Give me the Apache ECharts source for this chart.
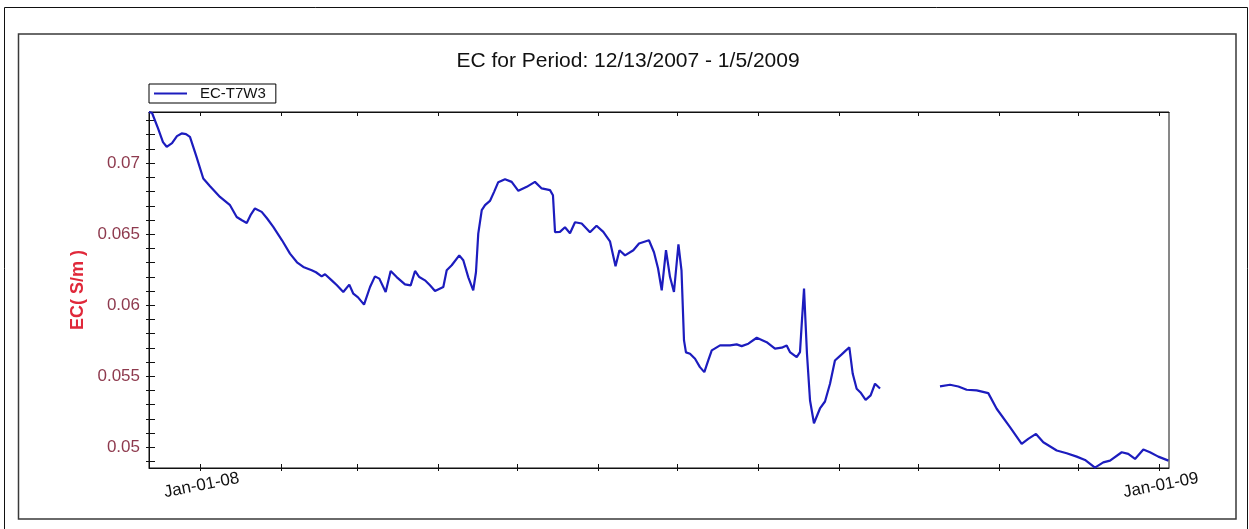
<!DOCTYPE html>
<html>
<head>
<meta charset="utf-8">
<title>EC for Period</title>
<script src="https://cdn.jsdelivr.net/npm/echarts@6/dist/echarts.min.js"></script>
<style>
  html, body { margin: 0; padding: 0; background: #fff; }
  #main { width: 1249px; height: 529px; }
</style>
</head>
<body>
<div id="main"></div>
<script>
// 数据：时间 + EC 值（null = 缺测）
var dates = [
  '2007-12-12 13:00', '2007-12-13 17:00', '2007-12-15 23:00', '2007-12-17 21:00', '2007-12-19 07:00',
  '2007-12-21 08:00', '2007-12-23 05:00', '2007-12-25 00:00', '2007-12-26 16:00', '2007-12-28 04:00',
  '2007-12-30 11:00', '2008-01-02 06:00', '2008-01-04 20:00', '2008-01-08 15:00', '2008-01-12 11:00',
  '2008-01-15 00:00', '2008-01-17 00:00', '2008-01-18 20:00', '2008-01-20 11:00', '2008-01-21 23:00',
  '2008-01-24 13:00', '2008-01-26 13:00', '2008-01-28 23:00', '2008-02-01 07:00', '2008-02-04 08:00',
  '2008-02-07 00:00', '2008-02-09 10:00', '2008-02-12 15:00', '2008-02-14 06:00', '2008-02-16 10:00',
  '2008-02-17 17:00', '2008-02-20 06:00', '2008-02-22 06:00', '2008-02-24 16:00', '2008-02-26 23:00',
  '2008-02-28 12:00', '2008-03-01 07:00', '2008-03-03 14:00', '2008-03-05 21:00', '2008-03-07 18:00',
  '2008-03-09 10:00', '2008-03-11 20:00', '2008-03-13 18:00', '2008-03-16 01:00', '2008-03-19 05:00',
  '2008-03-21 09:00', '2008-03-23 01:00', '2008-03-24 16:00', '2008-03-26 20:00', '2008-03-28 18:00',
  '2008-03-30 16:00', '2008-04-02 20:00', '2008-04-04 03:00', '2008-04-06 01:00', '2008-04-08 22:00',
  '2008-04-10 11:00', '2008-04-12 09:00', '2008-04-14 06:00', '2008-04-15 07:00', '2008-04-16 04:00',
  '2008-04-17 12:00', '2008-04-18 18:00', '2008-04-20 15:00', '2008-04-22 04:00', '2008-04-23 19:00',
  '2008-04-26 09:00', '2008-04-28 22:00', '2008-05-01 11:00', '2008-05-04 16:00', '2008-05-07 19:00',
  '2008-05-10 09:00', '2008-05-13 13:00', '2008-05-14 16:00', '2008-05-15 11:00', '2008-05-17 08:00',
  '2008-05-19 06:00', '2008-05-21 04:00', '2008-05-23 02:00', '2008-05-25 15:00', '2008-05-28 19:00',
  '2008-05-31 07:00', '2008-06-02 21:00', '2008-06-05 10:00', '2008-06-07 13:00', '2008-06-09 01:00',
  '2008-06-11 04:00', '2008-06-14 08:00', '2008-06-16 12:00', '2008-06-20 07:00', '2008-06-22 05:00',
  '2008-06-23 18:00', '2008-06-25 04:00', '2008-06-26 19:00', '2008-06-28 08:00', '2008-06-29 20:00',
  '2008-07-01 13:00', '2008-07-02 17:00', '2008-07-03 16:00', '2008-07-04 10:00', '2008-07-05 23:00',
  '2008-07-07 21:00', '2008-07-09 18:00', '2008-07-11 10:00', '2008-07-12 22:00', '2008-07-14 06:00',
  '2008-07-17 10:00', '2008-07-21 05:00', '2008-07-23 18:00', '2008-07-25 16:00', '2008-07-28 05:00',
  '2008-07-31 10:00', '2008-08-04 05:00', '2008-08-07 09:00', '2008-08-09 23:00', '2008-08-11 20:00',
  '2008-08-13 02:00', '2008-08-15 16:00', '2008-08-16 22:00', '2008-08-17 16:00', '2008-08-18 11:00',
  '2008-08-19 00:00', '2008-08-19 14:00', '2008-08-20 18:00', '2008-08-22 06:00', '2008-08-24 13:00',
  '2008-08-26 11:00', '2008-08-28 09:00', '2008-08-30 06:00', '2008-09-01 20:00', '2008-09-03 11:00',
  '2008-09-04 18:00', '2008-09-06 01:00', '2008-09-07 13:00', '2008-09-09 00:00', '2008-09-10 23:00',
  '2008-09-12 21:00', '2008-09-14 13:00', '2008-09-16 11:00', '2008-10-01 00:00', '2008-10-09 08:00',
  '2008-10-13 04:00', '2008-10-16 08:00', '2008-10-19 12:00', '2008-10-23 08:00', '2008-10-27 18:00',
  '2008-10-30 23:00', '2008-11-05 01:00', '2008-11-09 12:00', '2008-11-12 00:00', '2008-11-14 23:00',
  '2008-11-17 18:00', '2008-11-22 21:00', '2008-11-26 16:00', '2008-11-30 12:00', '2008-12-03 16:00',
  '2008-12-07 11:00', '2008-12-10 15:00', '2008-12-13 05:00', '2008-12-17 16:00', '2008-12-20 04:00',
  '2008-12-22 18:00', '2008-12-25 22:00', '2008-12-28 11:00', '2008-12-31 15:00', '2009-01-04 12:00'
];
var ecValues = [
  0.07360, 0.07353, 0.07247, 0.07148, 0.07115,
  0.07141, 0.07190, 0.07209, 0.07204, 0.07185,
  0.07056, 0.06892, 0.06838, 0.06762, 0.06704,
  0.06621, 0.06598, 0.06579, 0.06640, 0.06681,
  0.06657, 0.06612, 0.06551, 0.06457, 0.06363,
  0.06302, 0.06269, 0.06246, 0.06232, 0.06203,
  0.06218, 0.06175, 0.06140, 0.06093, 0.06145,
  0.06081, 0.06055, 0.06004, 0.06128, 0.06203,
  0.06187, 0.06093, 0.06241, 0.06198, 0.06147,
  0.06140, 0.06241, 0.06198, 0.06175, 0.06140,
  0.06100, 0.06128, 0.06246, 0.06281, 0.06351,
  0.06316, 0.06196, 0.06105, 0.06232, 0.06504,
  0.06669, 0.06704, 0.06734, 0.06796, 0.06866,
  0.06887, 0.06868, 0.06805, 0.06833, 0.06868,
  0.06822, 0.06810, 0.06774, 0.06514, 0.06516,
  0.06549, 0.06507, 0.06584, 0.06575, 0.06514,
  0.06559, 0.06516, 0.06450, 0.06274, 0.06387,
  0.06351, 0.06387, 0.06434, 0.06457, 0.06373,
  0.06260, 0.06105, 0.06387, 0.06198, 0.06093,
  0.06429, 0.06246, 0.05752, 0.05668, 0.05658,
  0.05623, 0.05564, 0.05529, 0.05611, 0.05682,
  0.05717, 0.05717, 0.05724, 0.05712, 0.05729,
  0.05771, 0.05740, 0.05694, 0.05701, 0.05717,
  0.05670, 0.05634, 0.05670, 0.05893, 0.06117,
  0.05893, 0.05658, 0.05329, 0.05169, 0.05273,
  0.05322, 0.05447, 0.05611, 0.05654, 0.05682,
  0.05703, 0.05517, 0.05412, 0.05386, 0.05334,
  0.05365, 0.05447, 0.05414, null,    0.05428,
  0.05440, 0.05428, 0.05405, 0.05400, 0.05381,
  0.05271, 0.05141, 0.05024, 0.05059, 0.05094,
  0.05035, 0.04977, 0.04958, 0.04934, 0.04911,
  0.04857, 0.04894, 0.04906, 0.04965, 0.04953,
  0.04918, 0.04984, 0.04965, 0.04934, 0.04906
];

// x 轴刻度（每月 1 日）和标签
var monthTicks = [
  '2008-01-01', '2008-02-01', '2008-03-01', '2008-04-01', '2008-05-01', '2008-06-01', '2008-07-01',
  '2008-08-01', '2008-09-01', '2008-10-01', '2008-11-01', '2008-12-01', '2009-01-01'
];
var xLabelDates = ['2008-01-01', '2009-01-01'];
// y 轴刻度
var yLabelValues = [0.05, 0.055, 0.06, 0.065, 0.07];
var yMinorTicks = [];
for (var t = 49; t <= 73; t++) yMinorTicks.push(t / 1000);

var xMin = '2007-12-12 13:00';
var xMax = '2009-01-04 17:00';
var yMin = 0.04854;
var yMax = 0.0736;

var monNames = ['Jan', 'Feb', 'Mar', 'Apr', 'May', 'Jun', 'Jul', 'Aug', 'Sep', 'Oct', 'Nov', 'Dec'];
function toTime(s) {
  var p = s.split(/[- :]/);
  return new Date(+p[0], +p[1] - 1, +p[2], +(p[3] || 0), +(p[4] || 0)).getTime();
}
function pad2(n) { return (n < 10 ? '0' : '') + n; }

var seriesData = [];
for (var i = 0; i < dates.length; i++) {
  seriesData.push([toTime(dates[i]), ecValues[i] === null ? '-' : ecValues[i]]);
}
var tickTimes = monthTicks.map(toTime);
var labelTimes = xLabelDates.map(toTime);

var FONT = '"Liberation Sans", Arial, sans-serif';

// time 轴不支持 customValues，这里用 value 轴（毫秒）
function timeAxis(pos, ticksInside, tickLen, showLine, showLabel) {
  return {
    type: 'value', min: toTime(xMin), max: toTime(xMax), position: pos, offset: 0,
    axisLine: { show: showLine, onZero: false, lineStyle: { color: '#111', width: 1 } },
    axisTick: { show: true, inside: ticksInside, length: tickLen, customValues: tickTimes, lineStyle: { color: '#111' } },
    axisLabel: {
      show: showLabel,
      customValues: labelTimes,
      rotate: 11, align: 'center', verticalAlign: 'top', margin: 9,
      fontFamily: FONT, fontSize: 17, color: '#111',
      formatter: function (v) {
        var d = new Date(v);
        return monNames[d.getMonth()] + '-' + pad2(d.getDate()) + '-' + pad2(d.getFullYear() % 100);
      }
    },
    splitLine: { show: false }
  };
}

function showChart() {
  var myChart = echarts.init(document.getElementById('main'), null, { renderer: 'canvas' });

  var option = {
    animation: false,
    backgroundColor: '#fff',
    title: {
      text: 'EC for Period: 12/13/2007 - 1/5/2009',
      left: 623,
      top: 46,
      textAlign: 'center',
      textStyle: { fontFamily: FONT, fontSize: 21, fontWeight: 'normal', color: '#111' }
    },
    legend: {
      left: 149,
      top: 84,
      padding: [2, 10, 2, 5],
      borderColor: '#000',
      borderWidth: 1,
      borderRadius: 0,
      icon: 'rect',
      itemWidth: 33,
      itemHeight: 2,
      textStyle: { fontFamily: FONT, fontSize: 15, color: '#111', padding: [0, 0, 0, 8], lineHeight: 15 },
      data: ['EC-T7W3']
    },
    grid: {
      left: 149, top: 112, right: 80, bottom: 61,
      show: true, borderColor: '#111', borderWidth: 1,
      containLabel: false
    },
    // 外框
    graphic: [
      { type: 'rect', silent: true, z: -1,
        shape: { x: 4.5, y: 7.5, width: 1243, height: 560 },
        style: { fill: 'none', stroke: '#111', lineWidth: 1 } },
      { type: 'rect', silent: true, z: -1,
        shape: { x: 18.5, y: 34, width: 1217.5, height: 485 },
        style: { fill: 'none', stroke: '#3a3a3a', lineWidth: 1.5 } }
    ],
    xAxis: [
      timeAxis('bottom', true, 4, true, true),
      timeAxis('bottom', false, 3, false, false),  // 下方刻度向外的一半
      timeAxis('top', true, 4, true, false)        // 顶部刻度
    ],
    yAxis: [
      {
        type: 'value', min: yMin, max: yMax, position: 'left',
        name: 'EC( S/m )',
        nameLocation: 'middle',
        nameGap: 62,
        nameTextStyle: { fontFamily: FONT, fontSize: 18, fontWeight: 'bold', color: '#e0283a' },
        axisLine: { show: true, onZero: false, lineStyle: { color: '#111', width: 1 } },
        axisTick: { show: true, inside: true, length: 6, customValues: yMinorTicks, lineStyle: { color: '#111' } },
        axisLabel: {
          customValues: yLabelValues, margin: 9,
          fontFamily: FONT, fontSize: 17, color: '#8e3a4e',
          formatter: function (v) { return String(parseFloat(v.toFixed(4))); }
        },
        splitLine: { show: false }
      },
      {
        type: 'value', min: yMin, max: yMax, position: 'left', offset: 0,
        axisLine: { show: false, onZero: false },
        axisTick: { show: true, inside: false, length: 3, customValues: yMinorTicks, lineStyle: { color: '#111' } },
        axisLabel: { show: false },
        splitLine: { show: false }
      }
    ],
    series: [
      {
        name: 'EC-T7W3',
        type: 'line',
        xAxisIndex: 0,
        yAxisIndex: 0,
        data: seriesData,
        symbol: 'none',
        showSymbol: false,
        connectNulls: false,
        lineStyle: { color: '#1c1cbe', width: 2.2 },
        itemStyle: { color: '#1c1cbe' }
      }
    ]
  };

  myChart.setOption(option);
}

showChart();
</script>
</body>
</html>
